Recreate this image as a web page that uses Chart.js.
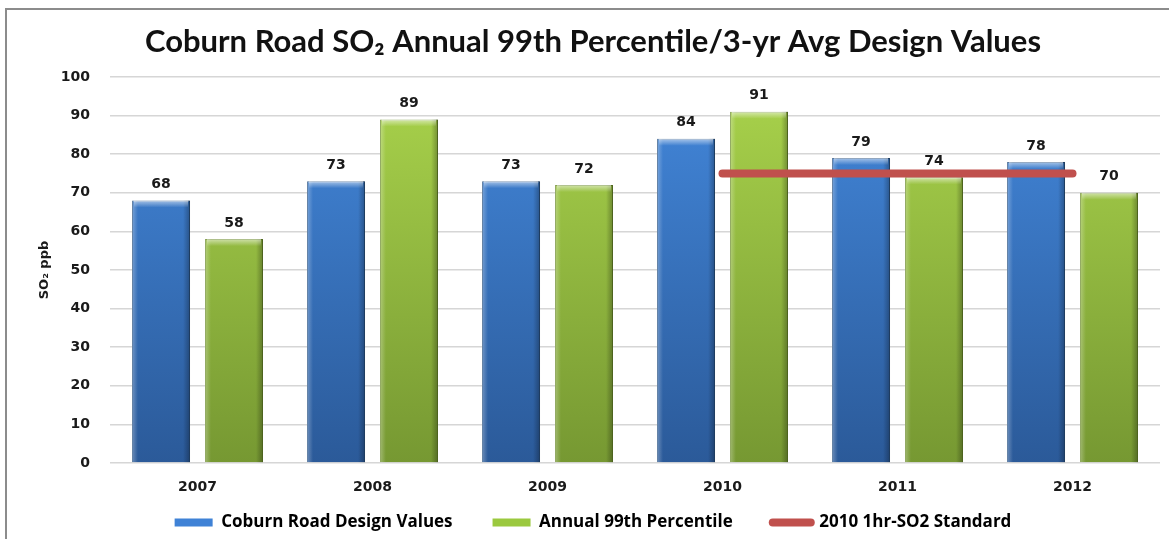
<!DOCTYPE html>
<html>
<head>
<meta charset="utf-8">
<title>Coburn Road SO2 Design Values</title>
<script src="https://cdn.jsdelivr.net/npm/chart.js@4.4.1/dist/chart.umd.min.js"></script>
<style>
  html, body { margin: 0; padding: 0; background: #fff; }
  #wrap { position: relative; width: 1169px; height: 539px; overflow: hidden; }
  #frame {
    position: absolute; left: 5px; top: 8px; width: 1200px; height: 600px;
    border-left: 2px solid #8c8c8c; border-top: 2px solid #8c8c8c;
  }
  canvas { position: absolute; left: 0; top: 0; }
</style>
</head>
<body>
<div id="wrap">
  <div id="frame"></div>
  <canvas id="chart" width="1169" height="539"></canvas>
</div>
<script>
const years = ["2007", "2008", "2009", "2010", "2011", "2012"]
const designValues = [68, 73, 73, 84, 79, 78]
const percentile99 = [58, 89, 72, 91, 74, 70]
const standard2010 = [null, null, null, 75, 75, 75]
const yMin = 0
const yMax = 100
const yStep = 10

const BLUE_TOP = "#4388dc"
const BLUE_BOTTOM = "#2b5a99"
const GREEN_TOP = "#aad44c"
const GREEN_BOTTOM = "#769832"
const RED = "#c0504d"

function verticalGradient(context, top, bottom) {
  const area = context.chart.chartArea
  if (!area) return top
  const g = context.chart.ctx.createLinearGradient(0, area.top, 0, area.bottom)
  g.addColorStop(0, top)
  g.addColorStop(1, bottom)
  return g
}

// Bevel shading on the bar edges, drawn from each bar element's own geometry
const barBevel = {
  id: "barBevel",
  afterDatasetDraw(chart, args) {
    const ds = chart.data.datasets[args.index]
    if (ds.type === "line") return
    const ctx = chart.ctx
    args.meta.data.forEach(bar => {
      const left = bar.x - bar.width / 2
      const right = bar.x + bar.width / 2
      const top = bar.y
      const bottom = bar.base
      ctx.save()
      let g = ctx.createLinearGradient(left, 0, left + 6, 0)
      g.addColorStop(0, "rgba(255,255,255,0.30)")
      g.addColorStop(1, "rgba(255,255,255,0)")
      ctx.fillStyle = g
      ctx.fillRect(left, top, 6, bottom - top)
      g = ctx.createLinearGradient(right - 7, 0, right, 0)
      g.addColorStop(0, "rgba(0,0,0,0)")
      g.addColorStop(1, "rgba(0,0,0,0.30)")
      ctx.fillStyle = g
      ctx.fillRect(right - 7, top, 7, bottom - top)
      g = ctx.createLinearGradient(0, top, 0, top + 7)
      g.addColorStop(0, "rgba(255,255,255,0.55)")
      g.addColorStop(1, "rgba(255,255,255,0)")
      ctx.fillStyle = g
      ctx.fillRect(left + 2, top, bar.width - 4, 7)
      ctx.restore()
    })
  }
}

// Value labels above the bars
const barValues = {
  id: "barValues",
  afterDraw(chart) {
    const ctx = chart.ctx
    ctx.save()
    ctx.font = "bold 14px 'DejaVu Sans', Verdana, sans-serif"
    ctx.fillStyle = "#1a1a1a"
    ctx.textAlign = "center"
    ctx.textBaseline = "middle"
    chart.data.datasets.forEach((ds, i) => {
      if (ds.type === "line") return
      const meta = chart.getDatasetMeta(i)
      meta.data.forEach((bar, j) => {
        ctx.fillText(String(ds.data[j]), bar.x, bar.y - 16)
      })
    })
    ctx.restore()
  }
}

// Pull the legend row up so it sits just under the year labels
const legendNudge = {
  id: "legendNudge",
  afterLayout(chart, args, opts) {
    const lg = chart.legend
    if (!lg) return
    lg.top += opts.dy
    lg.bottom += opts.dy
  }
}

const legendStyles = [
  { fill: "#3f82d6", point: "rect" },
  { fill: "#9bc93f", point: "rect" },
  { fill: RED, point: "line" }
]

new Chart(document.getElementById("chart").getContext("2d"), {
  data: {
    labels: years,
    datasets: [
      {
        type: "bar",
        label: "Coburn Road Design Values",
        data: designValues,
        backgroundColor: ctx => verticalGradient(ctx, BLUE_TOP, BLUE_BOTTOM),
        borderColor: "#2a5384",
        borderWidth: 1,
        categoryPercentage: 0.834,
        barPercentage: 0.795,
        order: 2
      },
      {
        type: "bar",
        label: "Annual 99th Percentile",
        data: percentile99,
        backgroundColor: ctx => verticalGradient(ctx, GREEN_TOP, GREEN_BOTTOM),
        borderColor: "#6a8a2a",
        borderWidth: 1,
        categoryPercentage: 0.834,
        barPercentage: 0.795,
        order: 2
      },
      {
        type: "line",
        label: "2010 1hr-SO2 Standard",
        data: standard2010,
        borderColor: RED,
        backgroundColor: RED,
        borderWidth: 8,
        borderCapStyle: "round",
        pointRadius: 0,
        fill: false,
        order: 1
      }
    ]
  },
  options: {
    responsive: false,
    animation: false,
    events: [],
    layout: {
      padding: { top: 0, right: 9, bottom: -31, left: 26 }
    },
    plugins: {
      title: {
        display: true,
        text: "Coburn Road SO₂ Annual 99th Percentile/3-yr Avg Design Values",
        color: "#111",
        font: { size: 31, weight: "bold", family: "Lato, 'Open Sans', sans-serif" },
        padding: { top: 23.4, bottom: 16.4 }
      },
      legend: {
        display: true,
        position: "bottom",
        labels: {
          usePointStyle: true,
          pointStyleWidth: 38,
          boxHeight: 8,
          padding: 40,
          color: "#111",
          font: { size: 17, weight: "bold", family: "'Open Sans', Lato, sans-serif" },
          generateLabels(chart) {
            return chart.data.datasets.map((ds, i) => ({
              text: ds.label,
              fillStyle: legendStyles[i].fill,
              strokeStyle: legendStyles[i].fill,
              pointStyle: legendStyles[i].point,
              lineWidth: legendStyles[i].point === "line" ? 8 : 0,
              lineCap: "round",
              hidden: false,
              datasetIndex: i
            }))
          }
        }
      },
      legendNudge: { dy: -29 },
      tooltip: { enabled: false }
    },
    scales: {
      x: {
        grid: { display: false },
        border: { display: false },
        ticks: {
          color: "#1a1a1a",
          font: { size: 14, weight: "bold", family: "'DejaVu Sans', Verdana, sans-serif" },
          padding: 7.6
        }
      },
      y: {
        min: yMin,
        max: yMax,
        grid: { color: "#d6d6d6", lineWidth: 1.5, drawTicks: false },
        border: { display: false },
        ticks: {
          stepSize: yStep,
          color: "#1a1a1a",
          font: { size: 14, weight: "bold", family: "'DejaVu Sans', Verdana, sans-serif" },
          padding: 20
        },
        title: {
          display: true,
          text: "SO₂ ppb",
          color: "#1a1a1a",
          font: { size: 13, weight: "bold", family: "'DejaVu Sans', Verdana, sans-serif" },
          padding: { top: 11, bottom: 0 }
        },
        afterFit(scale) {
          scale.width = 84
        }
      }
    }
  },
  plugins: [barBevel, barValues, legendNudge]
})
</script>
</body>
</html>
